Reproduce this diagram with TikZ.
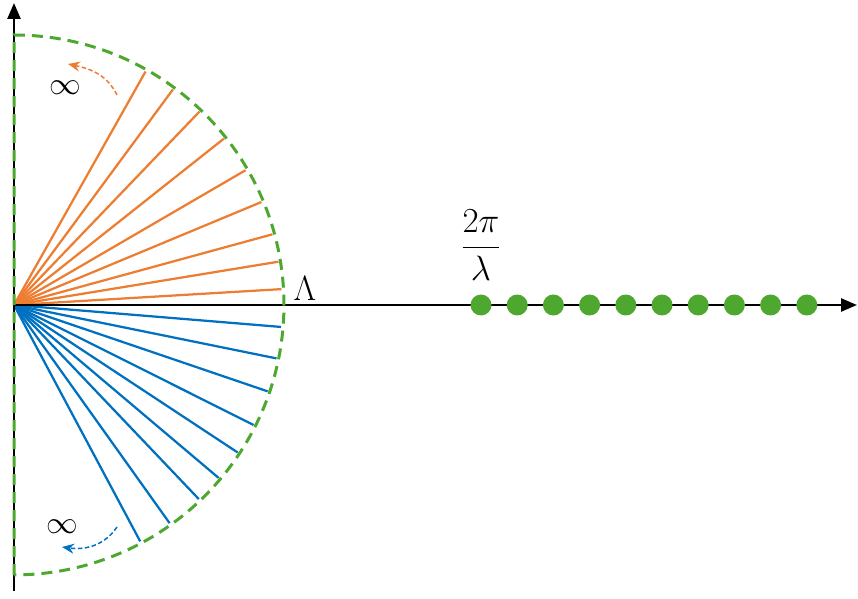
\RequirePackage{fix-cm}
\documentclass[tikz,border=0pt]{standalone}
\usepackage{amsmath}
\usetikzlibrary{arrows.meta}
\definecolor{rayorange}{HTML}{ED7D31}
\definecolor{rayblue}{HTML}{0070C0}
\definecolor{arcgreen}{HTML}{4EA72E}
\begin{document}
\begin{tikzpicture}[x=0.02cm,y=0.02cm,
    axis/.style={line width=0.05cm,-{Triangle[length=0.32cm,width=0.26cm]}},
    bound/.style={arcgreen,line width=0.06cm,dash pattern=on 0.22cm off 0.14cm},
    ray/.style={line width=0.045cm},
    turn/.style={line width=0.03cm,dash pattern=on 0.09cm off 0.05cm,-{Stealth[length=0.24cm,width=0.2cm,inset=0.08cm]}},
    lbl/.style={font=\fontsize{20}{24}\selectfont},
    inf/.style={font=\fontsize{18}{22}\selectfont}]
    \useasboundingbox (-14,-293) rectangle (844,305);
    \coordinate (O) at (0,0);
    \foreach \a in {3.4,9.3,15.3,22.6,30.2,38.4,46.2,53.6,60.6}
        \draw[ray,rayorange] (O) -- (\a:5.36cm);
    \foreach \a in {-4.7,-11.5,-18.8,-26.6,-33.4,-40.2,-46.4,-54.5,-61.9}
        \draw[ray,rayblue] (O) -- (\a:5.36cm);
    \draw[axis] (0,-286) -- (0,302);
    \draw[axis] (O) -- (843,0);
    \draw[bound] (0,-270) -- (0,270) arc[start angle=90,end angle=-90,radius=5.4cm];
    \foreach \i in {0,...,9}
        \fill[arcgreen] (467+36.2*\i,0) circle[radius=0.21cm];
    \node[lbl] (Lam) at (291,17) {$\Lambda$};
    \node[lbl] (freq) at (467,60) {$\dfrac{2\pi}{\lambda}$};
    \node[inf] (infup) at (51,217) {$\infty$};
    \node[inf] (infdown) at (48,-222) {$\infty$};
    \coordinate (upstart) at (103,210);
    \coordinate (upend) at (54,241);
    \coordinate (downstart) at (103,-222);
    \coordinate (downend) at (48,-242);
    \draw[turn,rayorange] (upstart) to[out=116,in=-12] (upend);
    \draw[turn,rayblue] (downstart) to[out=236,in=-8] (downend);
\end{tikzpicture}
\end{document}
